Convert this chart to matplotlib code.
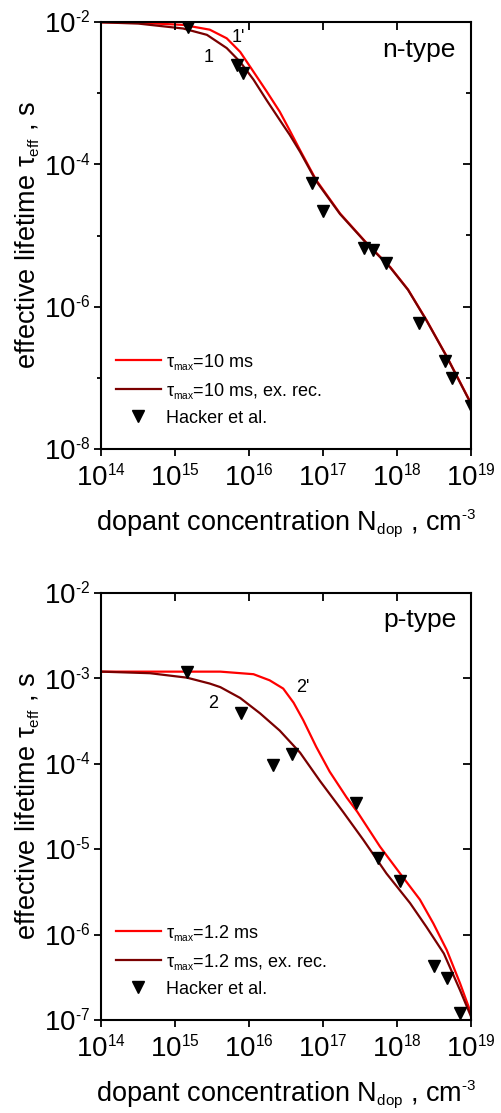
import matplotlib
matplotlib.use("Agg")
import matplotlib.pyplot as plt
from matplotlib.ticker import FixedLocator, FixedFormatter, NullFormatter
try:
    import matplotlib._mathtext as _mt
    _mt.SHRINK_FACTOR = 0.56
except Exception:
    pass

plt.rcParams['font.family'] = ['Liberation Sans', 'DejaVu Sans']
plt.rcParams['mathtext.fontset'] = 'custom'
plt.rcParams['mathtext.rm'] = 'Liberation Sans'
plt.rcParams['mathtext.it'] = 'Liberation Sans'
plt.rcParams['mathtext.bf'] = 'Liberation Sans:bold'

# ---------------- data: n-type (top) ----------------
n_red_x = [1e14, 3.2e14, 1.29e15, 2.95e15, 5.0e15, 7.6e15, 1.15e16, 1.74e16, 2.6e16, 3.55e16,
           4.9e16, 8.1e16, 1.7e17, 3.9e17, 8.1e17, 1.41e18, 2.5e18, 4.7e18, 1e19]
n_red_y = [9.9e-3, 9.8e-3, 9.1e-3, 7.8e-3, 5.9e-3, 3.8e-3, 2.0e-3, 1.05e-3, 5.5e-4, 3.0e-4,
           1.58e-4, 6.0e-5, 2.04e-5, 7.8e-6, 3.6e-6, 1.74e-6, 6.5e-7, 2.0e-7, 4.4e-8]
n_dark_x = [1e14, 3.2e14, 1.29e15, 2.7e15, 5.0e15, 7.6e15, 1.15e16, 1.74e16, 2.9e16, 3.55e16,
            4.9e16, 8.1e16, 1.7e17, 3.9e17, 8.1e17, 1.41e18, 2.5e18, 4.7e18, 1e19]
n_dark_y = [9.9e-3, 9.5e-3, 8.1e-3, 6.6e-3, 4.3e-3, 2.75e-3, 1.55e-3, 7.9e-4, 3.55e-4, 2.6e-4,
            1.5e-4, 5.8e-5, 2.0e-5, 7.7e-6, 3.55e-6, 1.72e-6, 6.4e-7, 1.98e-7, 4.3e-8]
n_hack_x = [1.51e15, 6.8e15, 8.3e15, 7.2e16, 1.0e17, 3.55e17, 4.7e17, 7.1e17, 2.0e18, 4.5e18, 5.6e18, 1.0e19]
n_hack_y = [8.5e-3, 2.5e-3, 1.95e-3, 5.4e-5, 2.2e-5, 6.6e-6, 6.3e-6, 4.1e-6, 5.9e-7, 1.7e-7, 1.0e-7, 4.0e-8]

# ---------------- data: p-type (bottom) ----------------
p_red_x = [1e14, 1.45e15, 4.1e15, 1.15e16, 1.9e16, 2.9e16, 4.0e16, 5.4e16, 8.1e16, 1.23e17,
           2.1e17, 2.9e17, 5.9e17, 1.1e18, 2.04e18, 3.1e18, 4.7e18, 7.1e18, 1e19]
p_red_y = [1.2e-3, 1.2e-3, 1.2e-3, 1.12e-3, 9.5e-4, 7.6e-4, 5.2e-4, 3.25e-4, 1.58e-4, 8.1e-5,
           4.0e-5, 2.75e-5, 1.07e-5, 5.2e-6, 2.57e-6, 1.35e-6, 6.6e-7, 2.7e-7, 1.2e-7]
p_dark_x = [1e14, 4.6e14, 1.45e15, 2.95e15, 4.1e15, 7.6e15, 1.41e16, 2.6e16, 4.9e16, 9.1e16,
            1.86e17, 3.5e17, 7.2e17, 1.5e18, 2.5e18, 4.3e18, 7.1e18, 1e19]
p_dark_y = [1.2e-3, 1.15e-3, 1.02e-3, 8.7e-4, 7.9e-4, 5.9e-4, 3.9e-4, 2.45e-4, 1.35e-4, 6.3e-5,
            2.75e-5, 1.29e-5, 5.2e-6, 2.34e-6, 1.23e-6, 6.0e-7, 2.24e-7, 1.1e-7]
p_hack_x = [1.45e15, 7.9e15, 2.1e16, 3.8e16, 2.75e17, 5.5e17, 1.1e18, 3.2e18, 4.8e18, 7.2e18]
p_hack_y = [1.2e-3, 3.9e-4, 9.8e-5, 1.29e-4, 3.5e-5, 7.8e-6, 4.2e-6, 4.3e-7, 3.1e-7, 1.2e-7]

# ---------------- ticks / labels ----------------
x_ticks = [1e14, 1e15, 1e16, 1e17, 1e18, 1e19]
x_labels = ['10$^{14}$', '10$^{15}$', '10$^{16}$', '10$^{17}$', '10$^{18}$', '10$^{19}$']
n_y_ticks = [1e-8, 1e-6, 1e-4, 1e-2]
n_y_labels = ['10$^{\\text{-8}}$', '10$^{\\text{-6}}$', '10$^{\\text{-4}}$', '10$^{\\text{-2}}$']
n_y_minor = [1e-7, 1e-5, 1e-3]
p_y_ticks = [1e-7, 1e-6, 1e-5, 1e-4, 1e-3, 1e-2]
p_y_labels = ['10$^{\\text{-7}}$', '10$^{\\text{-6}}$', '10$^{\\text{-5}}$', '10$^{\\text{-4}}$',
              '10$^{\\text{-3}}$', '10$^{\\text{-2}}$']

RED = '#ff0000'
DARK = '#7a0000'

fig = plt.figure(figsize=(5.01, 11.13), dpi=100)
W, H = 501.0, 1113.0


def make_panel(rect, ylim, yticks, ylabels, yminor, red, dark, hack, lab_red, lab_dark,
               type_text, type_pos, num_red, num_red_pos, num_dark, num_dark_pos):
    ax = fig.add_axes(rect)
    ax.set_xscale('log')
    ax.set_yscale('log')
    ax.plot(red[0], red[1], color=RED, lw=1.6, label=lab_red)
    ax.plot(dark[0], dark[1], color=DARK, lw=1.6, label=lab_dark)
    ax.plot(hack[0], hack[1], ls='none', marker='v', ms=8, color='black', label='Hacker et al.')
    ax.set_xlim(1e14, 1e19)
    ax.set_ylim(*ylim)
    ax.xaxis.set_major_locator(FixedLocator(x_ticks))
    ax.xaxis.set_major_formatter(FixedFormatter(x_labels))
    ax.xaxis.set_minor_locator(FixedLocator([]))
    ax.yaxis.set_major_locator(FixedLocator(yticks))
    ax.yaxis.set_major_formatter(FixedFormatter(ylabels))
    ax.yaxis.set_minor_locator(FixedLocator(yminor))
    ax.yaxis.set_minor_formatter(NullFormatter())
    ax.tick_params(which='major', direction='out', length=5, width=1.3, labelsize=20, pad=3)
    ax.tick_params(axis='x', which='major', pad=6)
    ax.tick_params(which='minor', direction='out', length=3, width=1.3)
    for s in ax.spines.values():
        s.set_linewidth(1.5)
    # top / right inward ticks
    axr = ax.twinx()
    axr.set_yscale('log')
    axr.set_ylim(*ylim)
    axr.yaxis.set_major_locator(FixedLocator(yticks))
    axr.yaxis.set_minor_locator(FixedLocator(yminor))
    axr.yaxis.set_major_formatter(NullFormatter())
    axr.yaxis.set_minor_formatter(NullFormatter())
    axr.tick_params(which='major', direction='in', length=6, width=1.3)
    axr.tick_params(which='minor', direction='in', length=3.5, width=1.3)
    axt = ax.twiny()
    axt.set_xscale('log')
    axt.set_xlim(1e14, 1e19)
    axt.xaxis.set_major_locator(FixedLocator(x_ticks))
    axt.xaxis.set_minor_locator(FixedLocator([]))
    axt.xaxis.set_major_formatter(NullFormatter())
    axt.tick_params(which='major', direction='in', length=6, width=1.3)
    for a in (axr, axt):
        for s in a.spines.values():
            s.set_visible(False)

    ax.set_xlabel('dopant concentration N$_{\\rm dop}$ , cm$^{\\text{-3}}$', fontsize=19.5)
    ax.xaxis.set_label_coords(0.5, -0.19)
    ax.xaxis.label.set_verticalalignment('baseline')
    ax.set_ylabel('effective lifetime \u03c4$_{\\rm eff}$ , s', fontsize=19.5)
    ax.yaxis.set_label_coords(-0.178, 0.5)
    ax.yaxis.label.set_verticalalignment('baseline')

    ax.legend(loc='lower left', bbox_to_anchor=(0.040, 0.052), frameon=False,
              fontsize=13, handlelength=2.5, handletextpad=0.28, labelspacing=0.5,
              borderpad=0, borderaxespad=0, numpoints=1)
    ax.text(type_pos[0], type_pos[1], type_text, transform=ax.transAxes, fontsize=19,
            ha='right', va='center')
    ax.text(num_red_pos[0], num_red_pos[1], num_red, transform=ax.transAxes, fontsize=13,
            ha='center', va='center')
    ax.text(num_dark_pos[0], num_dark_pos[1], num_dark, transform=ax.transAxes, fontsize=13,
            ha='center', va='center')
    return ax


# axes rectangles (pixels -> fractions)
L = 101 / W
AW = 370 / W
AH = 427 / H

make_panel([L, 1 - 449 / H, AW, AH], (1e-8, 1e-2), n_y_ticks, n_y_labels, n_y_minor,
           (n_red_x, n_red_y), (n_dark_x, n_dark_y), (n_hack_x, n_hack_y),
           '\u03c4$_{\\rm max}$=10 ms', '\u03c4$_{\\rm max}$=10 ms, ex. rec.',
           'n-type', ((456 - 101) / 370, 1 - (50 - 22) / 427),
           "1'", ((238 - 101) / 370, 1 - (37 - 22) / 427),
           '1', ((209 - 101) / 370, 1 - (57 - 22) / 427))

make_panel([L, 1 - 1020 / H, AW, AH], (1e-7, 1e-2), p_y_ticks, p_y_labels, [],
           (p_red_x, p_red_y), (p_dark_x, p_dark_y), (p_hack_x, p_hack_y),
           '\u03c4$_{\\rm max}$=1.2 ms', '\u03c4$_{\\rm max}$=1.2 ms, ex. rec.',
           'p-type', ((457 - 101) / 370, 1 - (620 - 593) / 427),
           "2'", ((303 - 101) / 370, 1 - (687 - 593) / 427),
           '2', ((213 - 101) / 370, 1 - (703 - 593) / 427))

fig.savefig('out.png', dpi=100)
